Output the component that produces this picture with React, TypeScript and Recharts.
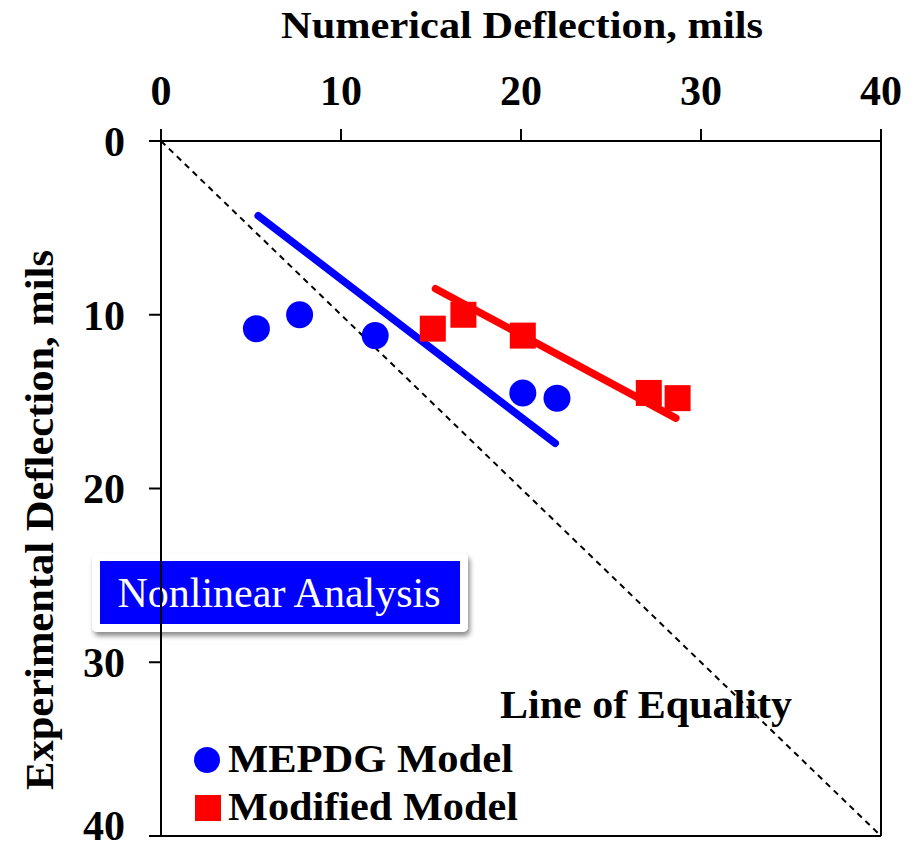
import React from 'react';
import {
  ComposedChart,
  XAxis,
  YAxis,
  Scatter,
  Line,
  ReferenceLine,
  Customized,
} from 'recharts';

// Experimental (measured) deflections, mils — shared by both models
const experimental = [10.8, 10.0, 11.2, 14.5, 14.8];
// Numerical deflections, mils
const mepdgNumerical = [5.3, 7.7, 11.9, 20.1, 22.0];
const modifiedNumerical = [15.1, 16.8, 20.1, 27.1, 28.7];

// Trend line end points [numerical, experimental]
const mepdgTrendX = [5.4, 21.9];
const mepdgTrendY = [4.3, 17.4];
const modifiedTrendX = [15.25, 28.6];
const modifiedTrendY = [8.5, 15.95];

const axisTicks = [0, 10, 20, 30, 40];

const BLUE = '#0000FF';
const RED = '#FF0000';
const FONT = '"Liberation Serif", "Times New Roman", serif';

const mepdgData = mepdgNumerical.map((x, i) => ({ x, y: experimental[i] }));
const modifiedData = modifiedNumerical.map((x, i) => ({ x, y: experimental[i] }));
const mepdgTrend = mepdgTrendX.map((x, i) => ({ x, y: mepdgTrendY[i] }));
const modifiedTrend = modifiedTrendX.map((x, i) => ({ x, y: modifiedTrendY[i] }));

const W = 920;
const H = 849;

const Circle = (p: any) => <circle cx={p.cx} cy={p.cy} r={13.5} fill={BLUE} />;
const Square = (p: any) => (
  <rect x={p.cx - 13} y={p.cy - 13} width={26} height={26} fill={RED} />
);

const AnalysisBox = () => (
  <g>
    <defs>
      <filter id="boxShadow" x="-10%" y="-20%" width="120%" height="150%">
        <feDropShadow dx="2" dy="4" stdDeviation="2.5" floodColor="#000" floodOpacity="0.45" />
      </filter>
    </defs>
    <rect x={92} y={553} width={376} height={79} rx={5} fill="#fff" filter="url(#boxShadow)" />
    <rect x={100} y={561} width={360} height={63} fill={BLUE} />
    <text x={279} y={607} textAnchor="middle" fontFamily={FONT} fontSize={42} fill="#fff">
      Nonlinear Analysis
    </text>
  </g>
);

const Labels = () => (
  <g fontFamily={FONT} fontWeight="bold" fill="#000">
    <text x={522} y={38} textAnchor="middle" fontSize={37} textLength={482} lengthAdjust="spacingAndGlyphs">
      Numerical Deflection, mils
    </text>
    <text
      x={0}
      y={0}
      transform="translate(53,520) rotate(-90)"
      textAnchor="middle"
      fontSize={39}
      textLength={540}
      lengthAdjust="spacingAndGlyphs"
    >
      Experimental Deflection, mils
    </text>
    <text x={500} y={718} fontSize={41} textLength={292} lengthAdjust="spacingAndGlyphs">
      Line of Equality
    </text>
    <circle cx={207} cy={760} r={13} fill={BLUE} />
    <text x={228} y={772} fontSize={41} textLength={285} lengthAdjust="spacingAndGlyphs">
      MEPDG Model
    </text>
    <rect x={195} y={795} width={26} height={26} fill={RED} />
    <text x={228} y={820} fontSize={41} textLength={290} lengthAdjust="spacingAndGlyphs">
      Modified Model
    </text>
  </g>
);

const tickStyle = { fontFamily: FONT, fontWeight: 'bold', fontSize: 42, fill: '#000' };

export default function App() {
  return (
    <div style={{ position: 'absolute', left: 0, top: 0, background: '#fff' }}>
      <ComposedChart
        width={W}
        height={H}
        margin={{ top: 0, right: 39, bottom: 13, left: 0 }}
      >
        <Customized component={AnalysisBox} />
        <XAxis
          type="number"
          dataKey="x"
          orientation="top"
          domain={[0, 40]}
          ticks={axisTicks}
          height={141}
          tickSize={12}
          tickMargin={24}
          axisLine={{ stroke: '#000', strokeWidth: 2 }}
          tickLine={{ stroke: '#000', strokeWidth: 2 }}
          tick={tickStyle}
          allowDataOverflow
        />
        <YAxis
          type="number"
          dataKey="y"
          reversed
          domain={[0, 40]}
          ticks={axisTicks}
          width={161}
          tickSize={12}
          tickMargin={24}
          axisLine={{ stroke: '#000', strokeWidth: 2 }}
          tickLine={{ stroke: '#000', strokeWidth: 2 }}
          tick={tickStyle}
          allowDataOverflow
        />
        <ReferenceLine x={40} stroke="#000" strokeWidth={2} />
        <ReferenceLine y={40} stroke="#000" strokeWidth={2} />
        <Customized component={Labels} />
        <Line
          data={mepdgTrend}
          dataKey="y"
          stroke={BLUE}
          strokeWidth={7.5}
          strokeLinecap="round"
          dot={false}
          activeDot={false}
          isAnimationActive={false}
        />
        <Line
          data={modifiedTrend}
          dataKey="y"
          stroke={RED}
          strokeWidth={7.5}
          strokeLinecap="round"
          dot={false}
          activeDot={false}
          isAnimationActive={false}
        />
        <Scatter data={mepdgData} dataKey="y" shape={Circle} isAnimationActive={false} />
        <Scatter data={modifiedData} dataKey="y" shape={Square} isAnimationActive={false} />
        <ReferenceLine
          segment={[{ x: 0, y: 0 }, { x: 40, y: 40 }]}
          stroke="#000"
          strokeWidth={2}
          strokeDasharray="6 5"
        />
      </ComposedChart>
    </div>
  );
}
